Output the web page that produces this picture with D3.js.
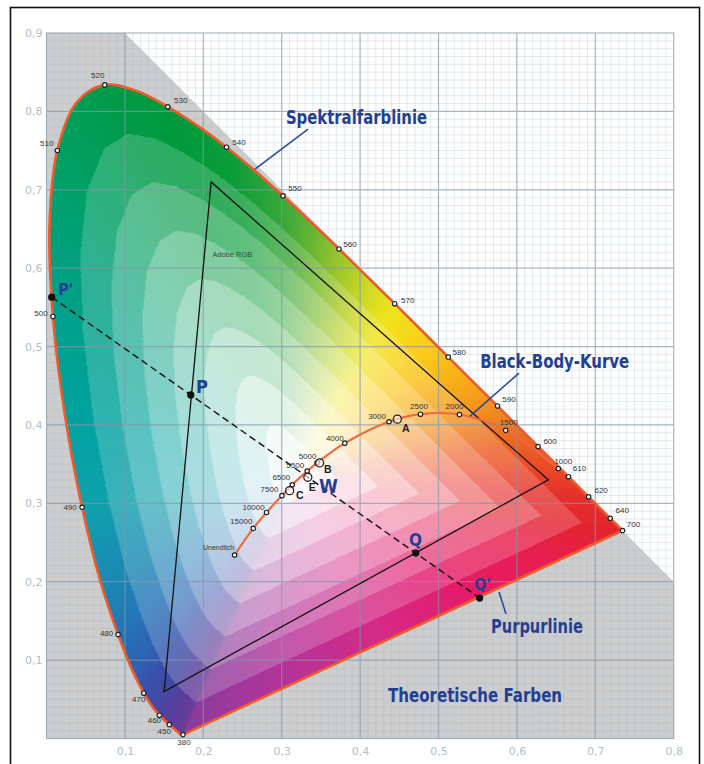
<!DOCTYPE html>
<html><head><meta charset="utf-8">
<script src="https://cdn.jsdelivr.net/npm/d3@7/dist/d3.min.js"></script>
<style>
html,body{margin:0;padding:0;background:#fff;}
svg{display:block;}
</style></head><body>
<svg id="chart" width="704" height="764"></svg>
<script>
// ---------- DATA ----------
const locusWavelengths = [380,385,390,395,400,405,410,415,420,425,430,435,440,445,450,455,460,465,470,475,480,485,490,495,500,505,510,515,520,525,530,535,540,545,550,555,560,565,570,575,580,585,590,595,600,605,610,615,620,625,630,635,640,645,650,655,660,665,670,675,680,690,700];
const locusX = [0.1741,0.1740,0.1738,0.1736,0.1733,0.1730,0.1726,0.1721,0.1714,0.1703,0.1689,0.1669,0.1644,0.1611,0.1566,0.1510,0.1440,0.1355,0.1241,0.1096,0.0913,0.0687,0.0454,0.0235,0.0082,0.0039,0.0139,0.0389,0.0743,0.1142,0.1547,0.1929,0.2296,0.2658,0.3016,0.3373,0.3731,0.4087,0.4441,0.4788,0.5125,0.5448,0.5752,0.6029,0.6270,0.6482,0.6658,0.6801,0.6915,0.7006,0.7079,0.7140,0.7190,0.7230,0.7260,0.7283,0.7300,0.7311,0.7320,0.7327,0.7334,0.7344,0.7347];
const locusY = [0.0050,0.0050,0.0049,0.0049,0.0048,0.0048,0.0048,0.0048,0.0051,0.0058,0.0069,0.0086,0.0109,0.0138,0.0177,0.0227,0.0297,0.0399,0.0578,0.0868,0.1327,0.2007,0.2950,0.4127,0.5384,0.6548,0.7502,0.8120,0.8338,0.8262,0.8059,0.7816,0.7543,0.7243,0.6923,0.6589,0.6245,0.5896,0.5547,0.5202,0.4866,0.4544,0.4242,0.3965,0.3725,0.3514,0.3340,0.3197,0.3083,0.2993,0.2920,0.2859,0.2809,0.2770,0.2740,0.2717,0.2700,0.2689,0.2680,0.2673,0.2666,0.2656,0.2653];
const markedWavelengths = [380,450,460,470,480,490,500,510,520,530,540,550,560,570,580,590,600,610,620,640,700];

const planckLabels = ["Unendlich","15000","10000","7500","6500","5500","5000","4000","3000","2500","2000","1500","1000"];
const planckX = [0.2399,0.2637,0.2807,0.3003,0.3135,0.3325,0.3451,0.3805,0.4369,0.4770,0.5267,0.5857,0.6528];
const planckY = [0.2341,0.2680,0.2884,0.3098,0.3237,0.3411,0.3516,0.3768,0.4041,0.4137,0.4133,0.3931,0.3444];

const illumNames = ["A","B","C","E"];
const illumX = [0.4476,0.3484,0.3101,0.3333];
const illumY = [0.4074,0.3516,0.3162,0.3333];

const adobeNames = ["R","G","B"];
const adobeX = [0.64,0.21,0.15];
const adobeY = [0.33,0.71,0.06];

const pointNames = ["P'","P","W","Q","Q'"];
const pointX = [0.0066,0.184,0.3333,0.471,0.5525];
const pointY = [0.563,0.4383,0.3333,0.2365,0.1792];

const xTicks = [0.1,0.2,0.3,0.4,0.5,0.6,0.7,0.8];
const yTicks = [0.1,0.2,0.3,0.4,0.5,0.6,0.7,0.8,0.9];

// hue anchors of the colour fill (boundary colours)
const hueWl = [380,450,460,470,475,480,485,490,495,500,505,510,520,530,540,550,555,560,565,570,575,580,585,590,595,600,610,620,640,700];
const hueCol = ["#8a3c9c","#5c3c9a","#4d44a0","#3a50aa","#2e62b2","#2574b8","#1a8ab4","#10a0ac","#00a2a0","#00a08c","#00a07a","#00a064","#009a48","#009a3c","#0a9c38","#3aa83a","#64b434","#96c42e","#c8d628","#f0e41c","#f8d41a","#fac018","#f6a81a","#f2901e","#ee7420","#ec5c24","#e9412a","#e6302c","#e4282c","#e3242c"];
const purpleT = [0,0.15,0.35,0.55,0.75,0.9,1];
const purpleCol = ["#e3242c","#e61e4e","#e41c6c","#d42a88","#b83296","#9e389c","#8a3c9c"];

// ---------- LAYOUT ----------
const svg = d3.select('#chart');
const x = d3.scaleLinear().domain([0,0.8]).range([46.5,673.7]);
const y = d3.scaleLinear().domain([0,0.9]).range([738.5,33]);
const blue = "#233f94";
const gridCol = "#8298aa";
const narrow = "'Liberation Sans Narrow','DejaVu Sans Condensed','Arial Narrow',sans-serif";

// outer frame
svg.append('rect').attr('x',10.5).attr('y',7.5).attr('width',689).attr('height',800)
  .attr('fill','none').attr('stroke','#111').attr('stroke-width',1.6);

// gray "theoretical colours" region (x+y<=1)
const grayPoly = [[0,0],[0,0.9],[0.1,0.9],[0.8,0.2],[0.8,0]];
svg.append('path').attr('d', d3.line().x(d=>x(d[0])).y(d=>y(d[1]))(grayPoly)+'Z')
  .attr('fill','#cdcdcd');

// minor grid
const gMinor = svg.append('g').attr('stroke','#9db4c6').attr('stroke-width',0.7).attr('opacity',0.4);
d3.range(1,80).forEach(i=>{ if(i%10) gMinor.append('line').attr('x1',x(i/100)).attr('x2',x(i/100)).attr('y1',y(0)).attr('y2',y(0.9)); });
d3.range(1,90).forEach(i=>{ if(i%10) gMinor.append('line').attr('y1',y(i/100)).attr('y2',y(i/100)).attr('x1',x(0)).attr('x2',x(0.8)); });

// locus polygon
const locus = locusWavelengths.map((w,i)=>({w:w,x:locusX[i],y:locusY[i]}));
const locusLine = d3.line().x(d=>x(d.x)).y(d=>y(d.y)).curve(d3.curveCatmullRom.alpha(0.5));
const locusPath = locusLine(locus)+'Z';

svg.append('clipPath').attr('id','locusClip').append('path').attr('d',locusPath);

// colour fill computed on a canvas
(function(){
  const hueScale = d3.scaleLinear().domain(hueWl).range(hueCol).interpolate(d3.interpolateRgb);
  const purScale = d3.scaleLinear().domain(purpleT).range(purpleCol).interpolate(d3.interpolateRgb);
  const wp = [0.32,0.34];
  const NB = 2048;
  const R = new Float32Array(NB);
  const C = new Array(NB);
  const n = locus.length;
  for(let b=0;b<NB;b++){
    const th = b/NB*2*Math.PI - Math.PI;
    const dx=Math.cos(th), dy=Math.sin(th);
    let best=Infinity, col=null;
    for(let i=0;i<n;i++){
      const A=locus[i], B=locus[(i+1)%n];
      const ex=B.x-A.x, ey=B.y-A.y, ax=A.x-wp[0], ay=A.y-wp[1];
      const det = -dx*ey + ex*dy;
      if(Math.abs(det)<1e-12) continue;
      const t = (-ax*ey + ex*ay)/det;
      const u = (dx*ay - dy*ax)/det;
      if(t>0 && u>=-1e-9 && u<=1+1e-9 && t<best){
        best=t;
        if(i===n-1) col = d3.rgb(purScale(u));
        else col = d3.rgb(hueScale(A.w + u*(B.w-A.w)));
      }
    }
    R[b]=best; C[b]=col||d3.rgb('#fff');
  }
  const x0=x(0), y0=y(0.9);
  const W=Math.ceil(x(0.8)-x0), H=Math.ceil(y(0)-y0);
  const cv=document.createElement('canvas'); cv.width=W; cv.height=H;
  const ctx=cv.getContext('2d');
  const img=ctx.createImageData(W,H);
  const N=8, gamma=1.5;
  for(let j=0;j<H;j++){
    const yd=y.invert(y0+j+0.5);
    for(let i=0;i<W;i++){
      const xd=x.invert(x0+i+0.5);
      const ddx=xd-wp[0], ddy=yd-wp[1];
      const d=Math.hypot(ddx,ddy);
      let b=Math.floor((Math.atan2(ddy,ddx)+Math.PI)/(2*Math.PI)*NB); if(b>=NB)b=NB-1; if(b<0)b=0;
      const s=d/R[b];
      if(s>1.08) continue;
      let k=Math.ceil(s*N); if(k<1)k=1; if(k>N)k=N;
      const f=Math.pow(k/N,gamma);
      const c=C[b];
      const p=(j*W+i)*4;
      img.data[p]=255*(1-f)+c.r*f;
      img.data[p+1]=255*(1-f)+c.g*f;
      img.data[p+2]=255*(1-f)+c.b*f;
      img.data[p+3]=255;
    }
  }
  ctx.putImageData(img,0,0);
  svg.append('image').attr('x',x0).attr('y',y0).attr('width',W).attr('height',H)
    .attr('preserveAspectRatio','none').attr('href',cv.toDataURL())
    .attr('clip-path','url(#locusClip)');
})();

// major grid
const gMajor = svg.append('g').attr('stroke',gridCol).attr('stroke-width',1.2).attr('opacity',0.7);
xTicks.slice(0,-1).forEach(v=>gMajor.append('line').attr('x1',x(v)).attr('x2',x(v)).attr('y1',y(0)).attr('y2',y(0.9)));
yTicks.slice(0,-1).forEach(v=>gMajor.append('line').attr('y1',y(v)).attr('y2',y(v)).attr('x1',x(0)).attr('x2',x(0.8)));
gMajor.append('rect').attr('x',x(0)).attr('y',y(0.9)).attr('width',x(0.8)-x(0)).attr('height',y(0)-y(0.9)).attr('fill','none');

// axes labels
const fmt = d=>d.toFixed(1).replace('.',',');
const axX = svg.append('g').attr('transform',`translate(0,${y(0)})`)
  .call(d3.axisBottom(x).tickValues(xTicks).tickFormat(fmt).tickSize(0).tickPadding(9));
const axY = svg.append('g').attr('transform',`translate(${x(0)},0)`)
  .call(d3.axisLeft(y).tickValues(yTicks).tickFormat(fmt).tickSize(0).tickPadding(4));
[axX,axY].forEach(a=>{ a.select('.domain').remove();
  a.selectAll('text').attr('fill','#aec0ce').attr('font-family',"'DejaVu Sans',sans-serif").attr('font-size',11); });

// spectral locus + purple line outline
svg.append('path').attr('d',locusPath).attr('fill','none').attr('stroke','#ef5a2a').attr('stroke-width',2.6).attr('stroke-linejoin','round');

// Adobe RGB triangle
const tri = adobeX.map((v,i)=>[v,adobeY[i]]);
svg.append('path').attr('d',d3.line().x(d=>x(d[0])).y(d=>y(d[1]))(tri)+'Z')
  .attr('fill','none').attr('stroke','#111').attr('stroke-width',1.3);
svg.append('text').attr('x',x(0.2369)).attr('y',y(0.6147)).attr('text-anchor','middle')
  .attr('font-family',"'Liberation Sans',Arial,sans-serif").attr('font-size',7.5).attr('fill','#2e4f44').text('Adobe RGB');

// dashed construction line
const pts = pointNames.map((n,i)=>({n:n,x:pointX[i],y:pointY[i]}));
const ends=[pts[0],pts[pts.length-1]];
svg.append('line').attr('x1',x(ends[0].x)).attr('y1',y(ends[0].y)).attr('x2',x(ends[1].x)).attr('y2',y(ends[1].y))
  .attr('stroke','#111').attr('stroke-width',1.4).attr('stroke-dasharray','7,4');

// black body curve
const planck = planckLabels.map((l,i)=>({l:l,x:planckX[i],y:planckY[i]}));
svg.append('path').attr('d',d3.line().x(d=>x(d.x)).y(d=>y(d.y)).curve(d3.curveCatmullRom.alpha(0.5))(planck))
  .attr('fill','none').attr('stroke','#ee6a3e').attr('stroke-width',2.2);

// leader lines
const leaders = [[[0.3336,0.7774],[0.266,0.7264]],[[0.6027,0.4662],[0.5402,0.4113]],[[0.5772,0.1869],[0.5861,0.1588]]];
leaders.forEach(l=>svg.append('line').attr('x1',x(l[0][0])).attr('y1',y(l[0][1])).attr('x2',x(l[1][0])).attr('y2',y(l[1][1]))
  .attr('stroke','#2c48a0').attr('stroke-width',1.6));

// wavelength markers and labels
const wlOff = {380:[1,10.5],450:[-5,9],460:[-5,8],470:[-5,8.5],480:[-11.5,2],490:[-12,3],500:[-12,0],510:[-10.7,-4.7],
  520:[-7,-7],530:[13,-4],540:[12.5,-2],550:[12,-5],560:[11,-2],570:[13,-1],580:[11,-2],590:[11.5,-4],600:[12,-2.5],
  610:[11,-6],620:[12.5,-3.5],640:[12,-5],700:[11,-4]};
const labelFont = "'Liberation Sans',Arial,sans-serif";
const marked = markedWavelengths.map(w=>locus[locusWavelengths.indexOf(w)]);
const gM = svg.append('g');
gM.selectAll('text.wl').data(marked).join('text').attr('class','wl')
  .attr('x',d=>x(d.x)+wlOff[d.w][0]).attr('y',d=>y(d.y)+wlOff[d.w][1]).attr('text-anchor','middle')
  .attr('font-family',labelFont).attr('font-size',8).attr('fill','#333').text(d=>d.w);
gM.selectAll('circle.wl').data(marked).join('circle').attr('class','wl')
  .attr('cx',d=>x(d.x)).attr('cy',d=>y(d.y)).attr('r',2.2).attr('fill','#fff').attr('stroke','#222').attr('stroke-width',1.2);

// planck markers and labels
const pOff = {"Unendlich":[-16,-5],"15000":[-12,-4],"10000":[-13,-2.5],"7500":[-12.5,-3.5],"6500":[-11,-4.5],"5500":[-12,-3],
  "5000":[-9.5,-3.6],"4000":[-10,-2],"3000":[-12,-3],"2500":[-1.5,-5.5],"2000":[-5,-5.5],"1500":[3,-5],"1000":[5,-5]};
gM.selectAll('text.pl').data(planck).join('text').attr('class','pl')
  .attr('x',d=>x(d.x)+pOff[d.l][0]).attr('y',d=>y(d.y)+pOff[d.l][1]).attr('text-anchor','middle')
  .attr('font-family',labelFont).attr('font-size',d=>d.l==='Unendlich'?7:8).attr('fill','#333').text(d=>d.l);
gM.selectAll('circle.pl').data(planck).join('circle').attr('class','pl')
  .attr('cx',d=>x(d.x)).attr('cy',d=>y(d.y)).attr('r',2.2).attr('fill','#fff').attr('stroke','#222').attr('stroke-width',1.2);

// illuminants
const ill = illumNames.map((n,i)=>({n:n,x:illumX[i],y:illumY[i]}));
const iOff = {A:[4.6,13],B:[4.4,10],C:[6.4,8.7],E:[1,14]};
gM.selectAll('circle.il').data(ill).join('circle').attr('class','il')
  .attr('cx',d=>x(d.x)).attr('cy',d=>y(d.y)).attr('r',4).attr('fill','#fff').attr('fill-opacity',0.6).attr('stroke','#222').attr('stroke-width',1.3);
gM.selectAll('text.il').data(ill).join('text').attr('class','il')
  .attr('x',d=>x(d.x)+iOff[d.n][0]).attr('y',d=>y(d.y)+iOff[d.n][1])
  .attr('font-family',labelFont).attr('font-weight','bold').attr('font-size',10.5).attr('fill','#222').text(d=>d.n);

// construction points
gM.selectAll('circle.pt').data(pts.filter(p=>p.n!=='W')).join('circle').attr('class','pt')
  .attr('cx',d=>x(d.x)).attr('cy',d=>y(d.y)).attr('r',3.6).attr('fill','#111');
const ptLab = {"P'":[0.0150,0.5657,16],"P":[0.1907,0.4407,18],"W":[0.3476,0.3135,19],"Q":[0.4624,0.2455,17],"Q'":[0.5457,0.1894,16]};
gM.selectAll('text.pt').data(pts).join('text').attr('class','pt')
  .attr('x',d=>x(ptLab[d.n][0])).attr('y',d=>y(ptLab[d.n][1]))
  .attr('font-family',narrow).attr('font-weight','bold').attr('font-size',d=>ptLab[d.n][2]).attr('fill',blue).text(d=>d.n);

// big annotations
const notes = [
  {t:"Spektralfarblinie",cx:0.3954,by:0.7838,w:0.18,fs:19},
  {t:"Black-Body-Kurve",cx:0.6482,by:0.4726,w:0.19,fs:19},
  {t:"Purpurlinie",cx:0.6256,by:0.1346,w:0.1173,fs:19},
  {t:"Theoretische Farben",cx:0.5466,by:0.0466,w:0.222,fs:19}
];
svg.selectAll('text.note').data(notes).join('text').attr('class','note')
  .attr('x',d=>x(d.cx)).attr('y',d=>y(d.by)).attr('text-anchor','middle')
  .attr('font-family',narrow).attr('font-weight','bold').attr('font-size',d=>d.fs).attr('fill',blue)
  .attr('textLength',d=>x(d.w)-x(0)).attr('lengthAdjust','spacingAndGlyphs').text(d=>d.t);
</script>
</body></html>
